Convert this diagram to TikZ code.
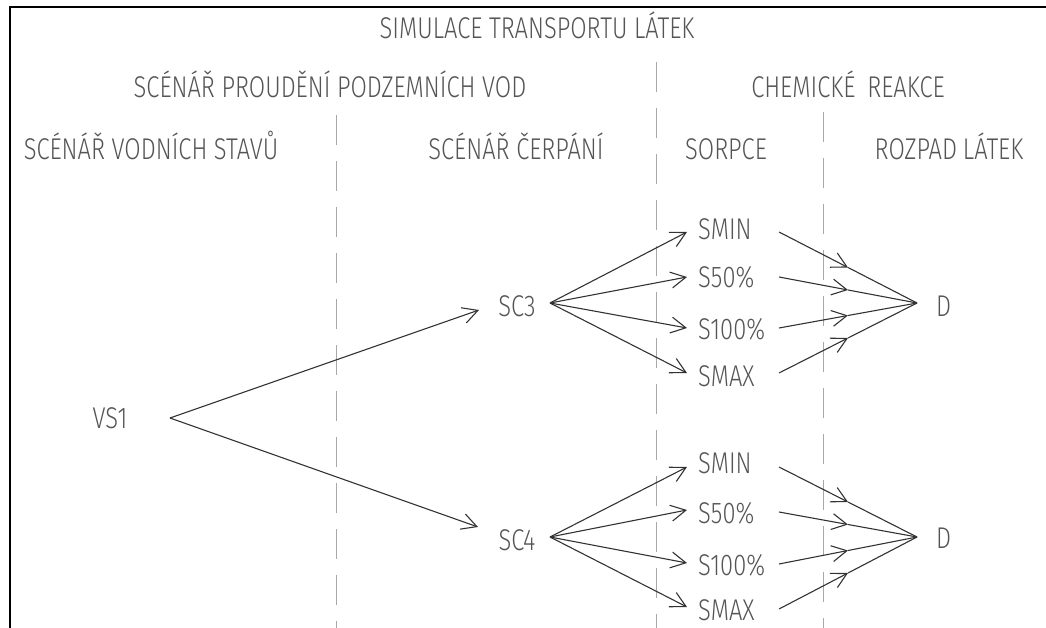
\documentclass[tikz,border=0pt]{standalone}
\usepackage{fontspec}
\usetikzlibrary{arrows.meta,calc}
\newfontfamily\cadfont[FakeStretch=0.79]{Fira Sans Light}
\newcommand\capt[1]{\smash{#1}\vphantom{H}}
\definecolor{txtgray}{HTML}{555555}
\definecolor{lngray}{HTML}{333333}
\definecolor{dashgray}{HTML}{A8A8A8}
\tikzset{
  lbl/.style={text=txtgray, font=\cadfont\fontsize{30}{30}\selectfont, inner sep=0pt},
  conn/.style={draw=lngray, line width=1.1pt},
  arr/.style={conn, -{Straight Barb[length=15pt,width=16pt,line width=1.1pt]}},
  divider/.style={draw=dashgray, line width=1pt, dash pattern=on 30pt off 16pt},
  frameline/.style={draw=black, line width=2.2pt}
}
\begin{document}
\begin{tikzpicture}[x=1pt,y=-1pt]
\useasboundingbox (0,0) rectangle (1046,628);
% frame
\draw[frameline] (1046,7) -- (10,7) -- (10,628);
% dividers
\draw[divider] (656,62) -- (656,628);
\draw[divider] (336,115) -- (336,628);
\draw[divider] (823,112) -- (823,628);
% headings
\node[lbl] (title) at (537,28) {\capt{SIMULACE TRANSPORTU LÁTEK}};
\node[lbl] (proud) at (330,87) {\capt{SCÉNÁŘ PROUDĚNÍ PODZEMNÍCH VOD}};
\node[lbl] (chem) at (848,87) {\capt{CHEMICKÉ\hspace{12pt}REAKCE}};
\node[lbl] (vodst) at (151,149) {\capt{SCÉNÁŘ VODNÍCH STAVŮ}};
\node[lbl] (cerp) at (516,149) {\capt{SCÉNÁŘ ČERPÁNÍ}};
\node[lbl] (sorp) at (726,149) {\capt{SORPCE}};
\node[lbl] (rozp) at (949,149) {\capt{ROZPAD\hspace{6pt}LÁTEK}};
% nodes
\node[lbl] (vs1) at (110,418) {\capt{VS1}};
\node[lbl] (sc3) at (517,306) {\capt{SC3}};
\node[lbl] (sc4) at (517,540) {\capt{SC4}};
\node[lbl,anchor=west] (aMin) at (698,229) {\capt{SMIN}};
\node[lbl,anchor=west] (a50) at (698,277) {\capt{S50\%}};
\node[lbl,anchor=west] (a100) at (698,329) {\capt{S100\%}};
\node[lbl,anchor=west] (aMax) at (698,376) {\capt{SMAX}};
\node[lbl,anchor=west] (bMin) at (698,463) {\capt{SMIN}};
\node[lbl,anchor=west] (b50) at (698,513) {\capt{S50\%}};
\node[lbl,anchor=west] (b100) at (698,565) {\capt{S100\%}};
\node[lbl,anchor=west] (bMax) at (698,610) {\capt{SMAX}};
\node[lbl,anchor=west] (dA) at (936,306) {\capt{D}};
\node[lbl,anchor=west] (dB) at (936,538) {\capt{D}};
% ports
\coordinate (vs1o) at ([shift={(60,0)}]vs1.center);
\coordinate (sc3i) at ([shift={(-38,4)}]sc3.center);
\coordinate (sc3o) at ([shift={(33,-3)}]sc3.center);
\coordinate (sc4i) at ([shift={(-39,-13)}]sc4.center);
\coordinate (sc4o) at ([shift={(33,-3)}]sc4.center);
\coordinate (dAi) at ([shift={(-19,-3)}]dA.west);
\coordinate (dBi) at ([shift={(-19,-1)}]dB.west);
% connectors VS1
\draw[arr] (vs1o) -- (sc3i);
\draw[arr] (vs1o) -- (sc4i);
% SC3 branch
\foreach \t/\ti/\so in {aMin/3/3,a50/0/0,a100/-1/-1,aMax/-3/-3}{
  \draw[arr] (sc3o) -- ([shift={(-11,\ti)}]\t.west);
  \coordinate (\t o) at ([shift={(81,\so)}]\t.west);
  \draw[arr] (\t o) -- ($(\t o)!0.5!(dAi)$);
  \draw[conn] ($(\t o)!0.5!(dAi)$) -- (dAi);
}
% SC4 branch
\foreach \t/\ti/\so in {bMin/4/4,b50/-3/-1,b100/-2/-1,bMax/-3/-1}{
  \draw[arr] (sc4o) -- ([shift={(-11,\ti)}]\t.west);
  \coordinate (\t o) at ([shift={(81,\so)}]\t.west);
  \draw[arr] (\t o) -- ($(\t o)!0.5!(dBi)$);
  \draw[conn] ($(\t o)!0.5!(dBi)$) -- (dBi);
}
\end{tikzpicture}
\end{document}
